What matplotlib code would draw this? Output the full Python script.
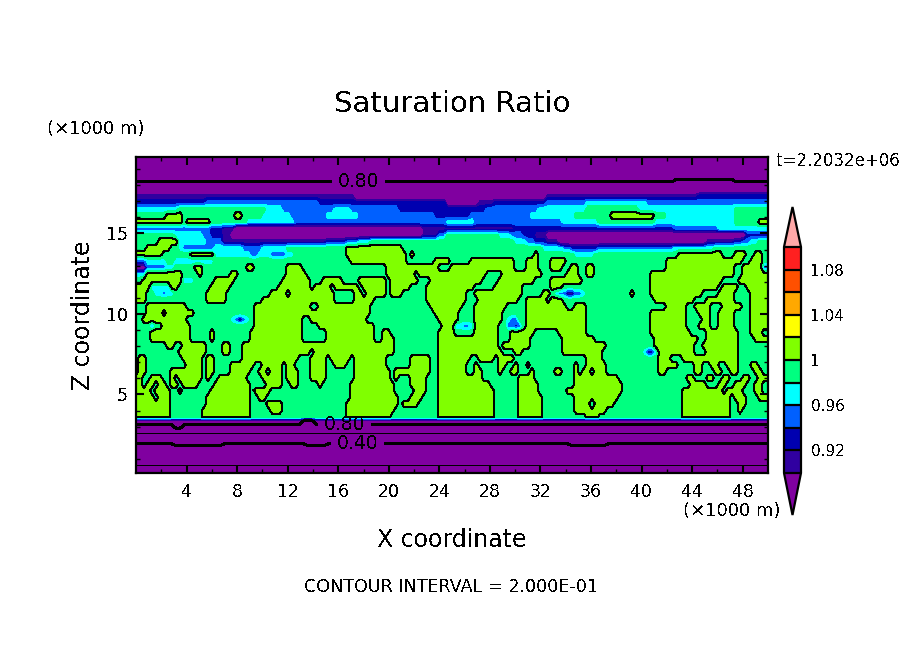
import numpy as np
import matplotlib
matplotlib.use("Agg")
import matplotlib.pyplot as plt
from matplotlib.colors import ListedColormap

plt.rcParams["font.family"] = "DejaVu Sans"
plt.rcParams["text.antialiased"] = False

# saturation ratio, one row per height
# a token like "g14" means: this value up to column 14 (159 columns across 0-50)
code_values = {"H": 0.16, "G": 0.24, "F": 0.36, "f": 0.39, "E": 0.44, "D": 0.56, "C": 0.64,
               "a": 0.69, "d": 0.74, "B": 0.74, "e": 0.81, "A": 0.86, "p": 0.87,
               "i": 0.91, "n": 0.93, "b": 0.95, "c": 0.97, "g": 0.99, "l": 1.01}

z_rows = [19.75, 19.35, 18.94, 18.54, 18.14, 17.73, 17.33, 16.93, 16.52, 16.12,
          15.71, 15.31, 14.91, 14.50, 14.10, 13.70, 13.29, 12.89, 12.48, 12.08,
          11.68, 11.27, 10.87, 10.47, 10.06, 9.66, 9.25, 8.85, 8.45, 8.04,
          7.64, 7.24, 6.83, 6.43, 6.02, 5.62, 5.22, 4.81, 4.41, 4.01,
          3.60, 3.29, 2.98, 2.73, 2.48, 2.11, 1.74, 0.93, 0.31, 0.06]

field_rows = [
    "a158",
    "a158",
    "d158",
    "d158",
    "e135 p150 e158",
    "p158",
    "i55 p103 i141 n158",
    "n18 b46 n78 p86 i90 n103 b113 c128 b158",
    "c11 g33 c37 b50 c54 b66 n88 b101 c113 g126 c150 g158",
    "g8 l12 g25 l27 g32 c39 b48 c56 b75 n84 b99 c110 g119 l130 g133 c150 g158",
    "l12 g13 l19 g28 c40 b78 c85 b107 c116 g130 c150 g156 l158",
    "b19 n22 i25 p72 i95 n135 b146 c158",
    "g10 c17 b19 n22 i24 p72 i76 b78 g91 c94 b97 n100 i103 p153 n158",
    "g6 l11 c18 b22 i48 n53 b56 c59 g95 c98 b100 n103 i106 p143 i150 n152 b154 c156 g158",
    "g3 l9 g11 c12 b20 c27 b32 c38 g53 l67 g102 c107 b109 n116 b135 c145 g158",
    "l7 g14 l20 c29 b31 c34 b38 c40 g53 l68 g69 l70 g100 l101 g110 c115 g136 l147 g150 l153 g155 l157 g158",
    "b3 c8 g10 c20 g54 l68 g75 l79 g84 l95 g98 l101 g104 l108 g133 l152 g154 l157 g158",
    "p3 b8 c10 g15 l17 g28 l30 g38 l42 g63 l76 g79 l95 g98 l101 g104 l107 g109 l111 g113 l115 g133 l150 g152 l157 b158",
    "c3 l12 g16 l17 g24 l26 g38 l43 g63 l70 g71 l88 g92 l102 g108 l111 g113 l115 g129 l150 g152 l158",
    "g2 l12 c15 g20 l25 g37 l44 g47 l52 g56 l63 g64 l71 g74 l87 g91 l100 g104 l112 g129 l147 g151 l158",
    "l4 c9 l11 g19 l24 g36 l44 g45 l49 g50 l56 g57 l63 g64 l69 g73 l85 g90 l97 g104 l107 g129 l146 g147 l151 g153 l158",
    "l3 g5 c7 b8 c10 g18 l23 g34 l38 g39 l50 g55 l57 g58 l63 g64 l67 g73 l83 g85 l97 g102 l104 g105 c106 b108 i110 b112 c113 g124 l125 g129 l142 g146 l150 g154 l158",
    "l3 g18 l23 g32 l50 g55 l60 g73 l83 g86 l96 g98 l103 g104 l107 g130 l140 g143 l150 g154 l158",
    "g3 l13 g30 l44 g46 l59 g74 l82 g85 l93 g98 l108 g110 l113 g133 l138 g140 l144 g147 l152 g154 l158",
    "g3 l7 g8 l15 g30 l59 g75 l81 g85 l92 g98 l113 g129 l138 g141 l144 g146 l150 g154 l158",
    "g2 l13 g24 c25 b26 i27 b28 c29 g30 l42 g44 l58 g76 l81 g85 l92 g93 c94 b96 g98 l113 g129 l138 g142 l144 g146 l150 g154 l158",
    "c1 g4 b5 g7 l14 g30 l42 g46 l60 g77 l80 c82 b84 c85 l91 g93 b95 n96 b97 g98 l113 g129 l138 g141 l144 g146 l150 g154 l158",
    "g4 l14 g19 l20 g29 l42 g48 l60 g62 l64 g76 l80 g85 l91 g94 l100 g106 l113 g129 l139 g143 l151 g154 l157 g158",
    "g4 l14 g19 l20 g29 l42 g48 l60 g62 l65 g76 l91 g94 l99 g107 l115 g130 l141 g143 l151 g155 l158",
    "g8 l10 g12 l18 g22 l24 g27 l65 g76 l91 g92 l99 g107 l118 g130 l140 g142 l151 g158",
    "g11 l18 g22 l24 g27 l44 g45 l65 g76 l92 g95 l97 g107 l117 g127 c128 n130 c131 l140 g143 l151 g158",
    "g1 l3 g12 l17 g18 l20 g27 l41 g44 l48 g49 l54 g55 l63 g69 l74 g76 l84 g86 l90 g91 l95 g113 l117 g131 l134 g137 l151 g158",
    "g1 l3 g13 l17 g18 l20 g24 l30 g32 l37 g38 l40 g44 l48 g50 l53 g55 l63 g69 l74 g76 l83 g85 l86 g91 l93 g95 l96 g98 l99 g110 l111 g113 l118 g131 l136 g140 l142 g144 l146 g148 l151 g154 l156 g158",
    "g1 l3 g9 l17 g18 l20 g24 l29 g31 l33 g34 l37 g38 l41 g44 l48 g55 l64 g65 l74 g76 l83 g85 l87 g91 l92 g94 l96 g99 l100 g105 l107 g110 l111 g112 l114 g115 l118 g131 l133 g140 l142 g145 l147 g149 l151 g155 l157 g158",
    "l2 g4 l7 g9 l10 g11 l17 g18 l19 g21 l28 g32 l37 g38 l41 g44 l48 g55 l64 g65 l66 g69 l73 g76 l87 g96 l100 g110 l121 g138 l140 g143 l145 g147 l149 g152 l154 g156 l158",
    "l2 g3 l5 g6 l8 g9 l11 g12 l16 g20 l29 g33 l37 g39 l41 g46 l47 g54 l65 g69 l73 g76 l89 g96 l101 g110 l122 g139 l143 g146 l148 g150 l153 g155 l157 g158",
    "l4 g5 l9 g11 l12 g19 l29 g30 l34 g54 l65 g70 l73 g76 l90 g96 l101 g108 l122 g137 l147 g148 l152 g155 l157 g158",
    "l5 g6 l9 g18 l29 g31 l33 g54 l66 g69 l72 g76 l90 g96 l102 g110 l121 g137 l149 g150 l153 g156 l158",
    "l9 g18 l29 g33 l37 g53 l66 g67 l71 g76 l90 g96 l102 g110 l114 c115 l120 g137 l149 g151 l153 g158",
    "l9 g17 l29 g34 l37 g53 l65 g76 l90 g96 l102 g110 l118 g137 l149 g151 l152 g158",
    "l9 g17 l29 g53 l64 g76 l90 g96 l102 g113 l116 g137 l149 g158",
    "A42 B45 A158",
    "B10 A12 B158",
    "C158",
    "D158",
    "E158",
    "F10 f22 F43 f48 F109 f118 F158",
    "G158",
    "H158",
    "H158",
]

levels = [0.90, 0.92, 0.94, 0.96, 0.98, 1.00, 1.02, 1.04, 1.06, 1.08, 1.10]
colors = ["#3000a0", "#0000b0", "#0060ff", "#00ffff", "#00ff80",
          "#80ff00", "#ffff00", "#ffa800", "#ff5000", "#ff2020"]
cbar_ticks = [0.92, 0.96, 1.00, 1.04, 1.08]
cbar_labels = ["0.92", "0.96", "1", "1.04", "1.08"]
thin_levels = [0.2, 0.6, 1.0]
thick_levels = [0.4, 0.8]


def decode_row(row):
    vals = np.zeros(159)
    start = 0
    for tok in row.split():
        vals[start:] = code_values[tok[0]]
        start = int(tok[1:])
    return vals


x = np.linspace(0, 50, 159)
z = np.array(z_rows)
field = np.array([decode_row(r) for r in field_rows])

fig = plt.figure(figsize=(9.04, 6.54), dpi=100)
ax = fig.add_axes([136 / 904, 1 - 473 / 654, 632 / 904, 316 / 654])

cmap = ListedColormap(colors)
cmap.set_under("#8000a0")
cmap.set_over("#ffa8a8")
cf = ax.contourf(x, z, field, levels=levels, cmap=cmap, extend="both", antialiased=False)
ax.contour(x, z, field, levels=thin_levels, colors="black", linewidths=0.72, antialiased=False)
cs = ax.contour(x, z, field, levels=thick_levels, colors="black", linewidths=1.44, antialiased=False)
# thick lines only get labels, as in the original
ax.clabel(cs, fmt="%.2f", fontsize=13.5, inline=True, inline_spacing=6,
          manual=[(17.6, 18.2), (16.5, 3.2), (17.5, 1.9)])

ax.set_xlim(0, 50)
ax.set_ylim(0.12, 19.75)
ax.set_xticks(np.arange(4, 50, 4))
ax.set_xticks(np.arange(2, 50, 2), minor=True)
ax.set_yticks([5, 10, 15])
ax.set_yticks(np.arange(1, 20), minor=True)
ax.tick_params(which="major", direction="in", length=5.8, width=1.5, top=True, right=True, labelsize=12.5)
ax.tick_params(which="minor", direction="in", length=2.9, width=1, top=True, right=True)
ax.tick_params(axis="x", which="major", pad=7)
ax.tick_params(axis="y", which="major", pad=6)
for s in ax.spines.values():
    s.set_linewidth(1.6)
    s.set_zorder(5)

fig.text(452 / 904, 1 - 104 / 654, "Saturation Ratio", ha="center", va="center", fontsize=21)
fig.text(47 / 904, 1 - 129 / 654, "(×1000 m)", ha="left", va="center", fontsize=13)
fig.text(781 / 904, 1 - 511 / 654, "(×1000 m)", ha="right", va="center", fontsize=13)
fig.text(777 / 904, 1 - 161 / 654, "t=2.2032e+06", ha="left", va="center", fontsize=12)
fig.text(452 / 904, 1 - 540 / 654, "X coordinate", ha="center", va="center", fontsize=17)
fig.text(83 / 904, 1 - 315 / 654, "Z coordinate", ha="center", va="center", rotation=90, fontsize=17)
fig.text(451 / 904, 1 - 587 / 654, "CONTOUR INTERVAL = 2.000E-01", ha="center", va="center", fontsize=12.6)

# the extension tips live inside the colorbar axes, so it spans tip to tip
cax = fig.add_axes([784 / 904, 1 - 515 / 654, 17 / 904, 308 / 654])
cb = fig.colorbar(cf, cax=cax, extend="both", extendfrac=(42 / 226, 40 / 226), drawedges=True)
cb.set_ticks(cbar_ticks)
cb.set_ticklabels(cbar_labels)
cb.ax.minorticks_off()
cb.ax.tick_params(length=0, labelsize=11, pad=7)
cb.outline.set_linewidth(1.6)
cb.dividers.set_linewidth(1.6)

fig.savefig("out.png", dpi=100)
